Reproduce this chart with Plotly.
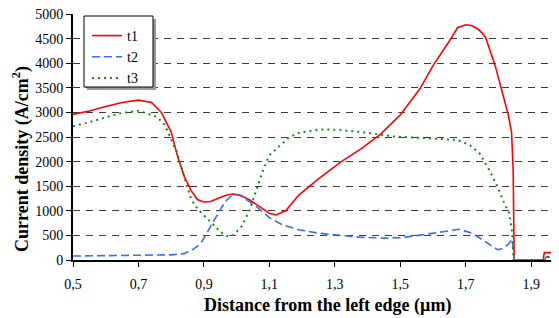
import plotly.graph_objects as go

# ---- data ----
t1_x = [0.5, 0.55, 0.6, 0.65, 0.7, 0.74, 0.77, 0.8, 0.82, 0.84, 0.86, 0.88, 0.9, 0.92,
        0.95, 0.97, 0.99, 1.01, 1.04, 1.07, 1.1, 1.12, 1.15, 1.19, 1.25, 1.32, 1.38,
        1.44, 1.5, 1.56, 1.6, 1.65, 1.675, 1.7, 1.72, 1.74, 1.76, 1.79, 1.81, 1.83,
        1.84, 1.845, 1.848, 1.9, 1.937, 1.94, 1.96, 1.985]
t1_y = [2960, 3030, 3120, 3200, 3250, 3200, 3000, 2600, 2100, 1700, 1420, 1230, 1180, 1190,
        1270, 1320, 1340, 1320, 1220, 1080, 950, 915, 1000, 1320, 1650, 2000, 2260,
        2560, 2950, 3480, 3950, 4450, 4720, 4780, 4760, 4680, 4540, 3950, 3450, 2950,
        2600, 1800, 0, 0, 0, 150, 150, 130]

t2_x = [0.5, 0.6, 0.7, 0.75, 0.8, 0.84, 0.87, 0.89, 0.91, 0.935, 0.955, 0.97, 0.99, 1.01,
        1.03, 1.06, 1.1, 1.14, 1.19, 1.25, 1.3, 1.375, 1.45, 1.5, 1.56, 1.62, 1.68, 1.72,
        1.76, 1.797, 1.81, 1.827, 1.842, 1.846, 1.848, 1.942, 1.946, 1.985]
t2_y = [80, 85, 95, 100, 105, 130, 230, 330, 560, 850, 1080, 1220, 1335, 1310,
        1230, 1090, 860, 715, 615, 545, 515, 465, 445, 455, 505, 570, 625, 545,
        375, 210, 230, 300, 420, 150, 0, 0, 60, 60]

t3_x = [0.5, 0.55, 0.6, 0.644, 0.7, 0.756, 0.78, 0.796, 0.817, 0.84, 0.862, 0.883, 0.91,
        0.93, 0.95, 0.97, 0.99, 1.015, 1.04, 1.061, 1.081, 1.1, 1.126, 1.162, 1.193,
        1.254, 1.314, 1.396, 1.48, 1.588, 1.675, 1.711, 1.741, 1.772, 1.797, 1.818,
        1.833, 1.842, 1.846, 1.945, 1.95, 1.985]
t3_y = [2720, 2800, 2900, 2980, 3035, 2910, 2750, 2500, 2200, 1680, 1220, 1020, 850,
        710, 570, 490, 505, 680, 1020, 1420, 1830, 2130, 2280, 2500, 2590,
        2655, 2645, 2590, 2510, 2470, 2440, 2340, 2180, 1830, 1490, 1150,
        950, 550, 0, 0, 60, 60]

x_tick_vals = [0.5, 0.7, 0.9, 1.1, 1.3, 1.5, 1.7, 1.9]
x_tick_text = ["0,5", "0,7", "0,9", "1,1", "1,3", "1,5", "1,7", "1,9"]
y_tick_vals = [0, 500, 1000, 1500, 2000, 2500, 3000, 3500, 4000, 4500, 5000]

series_names = ["t1", "t2", "t3"]

SERIF = "'Times New Roman', 'Liberation Serif', 'DejaVu Serif', serif"

fig = go.Figure()
fig.add_trace(go.Scatter(x=t1_x, y=t1_y, name=series_names[0], mode="lines",
                         line=dict(color="#ff0000", width=1.6)))
fig.add_trace(go.Scatter(x=t2_x, y=t2_y, name=series_names[1], mode="lines",
                         line=dict(color="#3a6cf0", width=1.6, dash="8px,4px")))
fig.add_trace(go.Scatter(x=t3_x, y=t3_y, name=series_names[2], mode="lines",
                         line=dict(color="#148a14", width=2, dash="2px,4px")))

# the page body has an 8px margin, so the figure is 8px smaller and offset
OFF = 8
W, H = 559 - OFF, 318 - OFF
ml, mr, mt, mb = 73 - OFF, 0, 14 - OFF, 58
pw = W - ml - mr
ph = H - mt - mb

def px_to_paper_x(px):  # px in window pixels
    return (px - OFF - ml) / pw

def px_to_paper_y(py):
    return (H - mb - (py - OFF)) / ph

# legend box (shadow + frame)
lx0, lx1, ly0, ly1 = 84, 153, 16, 87
shapes = [
    dict(type="rect", xref="paper", yref="paper",
         x0=px_to_paper_x(lx0 + 3), x1=px_to_paper_x(lx1 + 3),
         y0=px_to_paper_y(ly1 + 3), y1=px_to_paper_y(ly0 + 3),
         fillcolor="#9a9a9a", line=dict(width=0), layer="above"),
    dict(type="rect", xref="paper", yref="paper",
         x0=px_to_paper_x(lx0), x1=px_to_paper_x(lx1),
         y0=px_to_paper_y(ly1), y1=px_to_paper_y(ly0),
         fillcolor="white", line=dict(color="black", width=1), layer="above"),
]

fig.update_layout(
    width=W, height=H,
    margin=dict(l=ml, r=mr, t=mt, b=mb, pad=0),
    paper_bgcolor="white", plot_bgcolor="white",
    font=dict(family=SERIF, size=14, color="black"),
    showlegend=True,
    legend=dict(x=px_to_paper_x(lx0 + 3), y=px_to_paper_y(ly0 + 4),
                xanchor="left", yanchor="top",
                bgcolor="rgba(0,0,0,0)", borderwidth=0,
                font=dict(family=SERIF, size=14, color="black"),
                itemwidth=30, tracegroupgap=4),
    shapes=shapes,
    xaxis=dict(range=[0.5, 1.985], tickvals=x_tick_vals, ticktext=x_tick_text,
               showgrid=False, zeroline=False, showline=True, linecolor="black",
               linewidth=2, ticks="outside", ticklen=5, tickcolor="black",
               tickfont=dict(family=SERIF, size=14), ticklabelstandoff=5,
               ticklabeloverflow="allow"),
    yaxis=dict(range=[0, 5000], tickvals=y_tick_vals, showgrid=True,
               gridcolor="#3c3c3c", gridwidth=1, griddash="7px,6px",
               zeroline=False, showline=True, linecolor="black", linewidth=2,
               ticks="outside", ticklen=5, tickcolor="black",
               tickfont=dict(family=SERIF, size=14), ticklabeloverflow="allow"),
    annotations=[
        dict(text="<b>Distance from the left edge (µm)</b>", xref="paper", yref="paper",
             x=px_to_paper_x(327), y=px_to_paper_y(305), xanchor="center", yanchor="middle",
             showarrow=False, font=dict(family=SERIF, size=18, color="black")),
        dict(text="<b>Current density (A/cm<sup>2</sup>)</b>", xref="paper", yref="paper",
             x=px_to_paper_x(21), y=px_to_paper_y(159), xanchor="center", yanchor="middle",
             textangle=-90, showarrow=False, font=dict(family=SERIF, size=18, color="black")),
    ],
)

fig.write_html("out.html")
